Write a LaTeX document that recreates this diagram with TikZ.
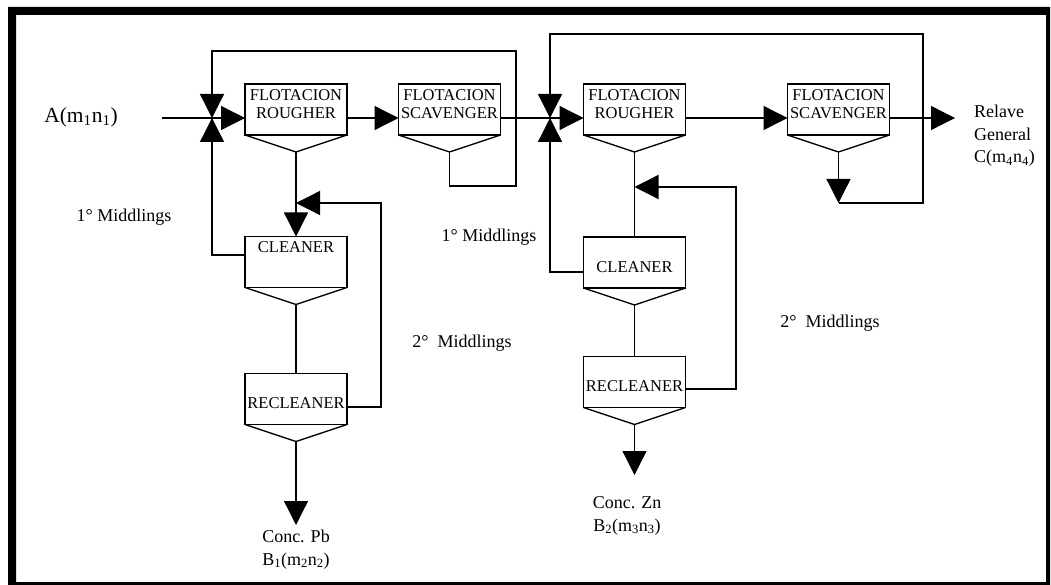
\documentclass[tikz,border=0pt]{standalone}
\usepackage{fontspec}
\setmainfont{Liberation Serif}
\usetikzlibrary{arrows.meta,calc}
\begin{document}
\begin{tikzpicture}[x=1pt,y=-1pt,
  ln/.style={line width=1.3pt},
  arr/.style={ln,-{Triangle[length=24pt,width=24pt]}},
  cell/.style={draw,line width=1.3pt,minimum width=102pt,minimum height=51pt,inner sep=0pt,outer sep=0pt},
  ctext/.style={font=\fontsize{16.5}{18}\selectfont,align=center,inner sep=0pt},
  lbl/.style={font=\fontsize{18}{22.5}\selectfont,align=center,inner sep=0pt}]
\useasboundingbox (0,0) rectangle (1051,585);
\fill[black,even odd rule] (8,7) rectangle (1050,585) (16,15) rectangle (1046,582);
% cells
\node[cell] (r1) at (296,109.5) {};
\node[cell] (s1) at (449.5,109.5) {};
\node[cell] (c1) at (296,262) {};
\node[cell] (rc1) at (296,399) {};
\node[cell] (r2) at (634.5,109.5) {};
\node[cell] (s2) at (838.5,109.5) {};
\node[cell] (c2) at (634.5,262.5) {};
\node[cell] (rc2) at (634.5,382) {};
\foreach \n in {r1,s1,c1,rc1,r2,s2,c2,rc2}{
  \coordinate (\n-p) at ($(\n.south)+(0,17)$);
  \draw[ln] (\n.south west) -- (\n-p) -- (\n.south east);
}
% cell texts
\node[ctext] (r1t) at (296,104) {FLOTACION\\ROUGHER};
\node[ctext] (s1t) at (449.5,104) {FLOTACION\\SCAVENGER};
\node[ctext] (c1t) at (296,247) {CLEANER};
\node[ctext] (rc1t) at (296,403) {RECLEANER};
\node[ctext] (r2t) at (634.5,104) {FLOTACION\\ROUGHER};
\node[ctext] (s2t) at (838.5,104) {FLOTACION\\SCAVENGER};
\node[ctext] (c2t) at (634.5,267) {CLEANER};
\node[ctext] (rc2t) at (634.5,386) {RECLEANER};
% junctions and bends
\coordinate (v1) at (212,118);
\coordinate (v2) at (550,118);
\coordinate (feed) at (162,118);
\coordinate (out) at (955,118);
\coordinate (la) at (449.5,186);
\coordinate (lb) at (516,186);
\coordinate (lc) at (516,51);
\coordinate (ld) at (212,51);
\coordinate (ma) at (838.5,203);
\coordinate (mb) at (923,203);
\coordinate (mc) at (923,34);
\coordinate (md) at (550,34);
\coordinate (ca) at (212,255);
\coordinate (cb) at (550,272);
\coordinate (ra) at (381,407);
\coordinate (rb) at (381,203);
\coordinate (rc) at (736,389);
\coordinate (rd) at (736,187);
\coordinate (pbend) at (296,525);
\coordinate (znend) at (634.5,475);
% main line
\draw[arr] (feed) -- (r1.west |- v1);
\draw[arr] (r1.east |- v1) -- (s1.west |- v1);
\draw[ln] (s1.east |- v1) -- (v2);
\draw[arr] (v2) -- (r2.west |- v2);
\draw[arr] (r2.east |- v2) -- (s2.west |- v2);
\draw[arr] (s2.east |- v2) -- (out);
% recycle loops
\draw[arr] (s1-p) -- (la) -- (lb) -- (lc) -- (ld) -- (v1);
\draw[arr] (c1.west |- ca) -- (ca) -- (v1);
\draw[arr] (s2-p) -- (ma);
\draw[arr] (ma) -- (mb) -- (mc) -- (md) -- (v2);
\draw[arr] (c2.west |- cb) -- (cb) -- (v2);
% group 1 vertical
\draw[arr] (r1-p) -- (c1.north);
\draw[ln] (c1-p) -- (rc1.north);
\draw[arr] (rc1.east |- ra) -- (ra) -- (rb) -- (r1-p |- rb);
\draw[arr] (rc1-p) -- (pbend);
% group 2 vertical
\draw[ln] (r2-p) -- (c2.north);
\draw[ln] (c2-p) -- (rc2.north);
\draw[arr] (rc2.east |- rc) -- (rc) -- (rd) -- (r2-p |- rd);
\draw[arr] (rc2-p) -- (znend);
% labels
\node[lbl,font=\fontsize{21.5}{24}\selectfont] (A) at (81,117) {A(m\textsubscript{1}n\textsubscript{1})};
\node[lbl] (m1a) at (124,217) {1° Middlings};
\node[lbl] (m1b) at (489,237) {1° Middlings};
\node[lbl] (m2a) at (462,343) {2°\ \ Middlings};
\node[lbl] (m2b) at (830,323) {2°\ \ Middlings};
\node[lbl] (pb) at (296,549.5) {Conc. Pb\\B\textsubscript{1}(m\textsubscript{2}n\textsubscript{2})};
\node[lbl] (zn) at (627,516) {Conc. Zn\\B\textsubscript{2}(m\textsubscript{3}n\textsubscript{3})};
\node[lbl,align=left,anchor=west] (rel) at (974,136) {Relave\\General\\C(m\textsubscript{4}n\textsubscript{4})};
\end{tikzpicture}
\end{document}
